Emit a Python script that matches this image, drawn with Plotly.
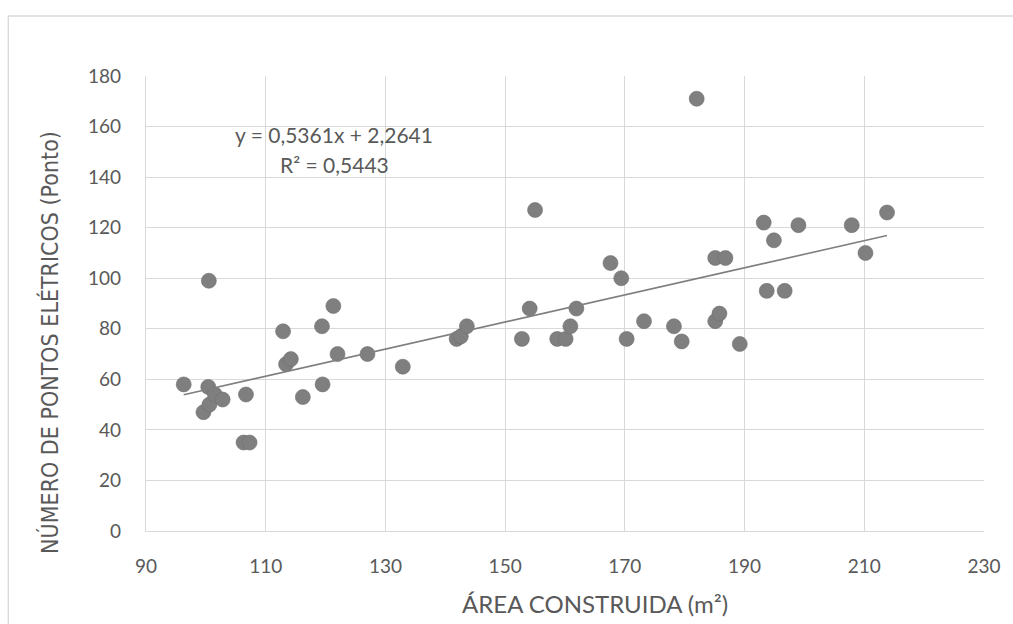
import plotly.graph_objects as go

# Data
area = [96.3, 100.4, 100.5, 99.6, 100.6, 101.5, 102.8, 106.7, 106.3, 107.3,
        112.9, 113.4, 114.2, 116.2, 119.4, 119.5, 121.3, 122.0, 127.0, 132.9,
        141.9, 142.6, 143.6, 152.8, 154.1, 155.0, 158.7, 160.1, 160.9, 161.9,
        167.6, 169.4, 170.3, 173.2, 178.2, 179.5, 182.0, 185.1, 186.8, 185.1,
        185.8, 189.2, 193.2, 193.7, 194.9, 196.7, 199.0, 207.9, 210.2, 213.8]
pontos = [58, 57, 99, 47, 50, 54, 52, 54, 35, 35,
          79, 66, 68, 53, 81, 58, 89, 70, 70, 65,
          76, 77, 81, 76, 88, 127, 76, 76, 81, 88,
          106, 100, 76, 83, 81, 75, 171, 108, 108, 83,
          86, 74, 122, 95, 115, 95, 121, 121, 110, 126]

slope = 0.5361
intercept = 2.2641
eq_text = "y = 0,5361x + 2,2641"
r2_text = "R² = 0,5443"

x_ticks = [90, 110, 130, 150, 170, 190, 210, 230]
y_ticks = [0, 20, 40, 60, 80, 100, 120, 140, 160, 180]

trend_x = [min(area), max(area)]
trend_y = [slope * v + intercept for v in trend_x]

txt = "#595959"
grid = "#d9d9d9"

fig = go.Figure()
fig.add_trace(go.Scatter(x=area, y=pontos, mode="markers",
                         marker=dict(size=15, color="#7f7f7f",
                                     line=dict(width=0.6, color="#6f6f6f")),
                         showlegend=False, hoverinfo="x+y"))
fig.add_trace(go.Scatter(x=trend_x, y=trend_y, mode="lines",
                         line=dict(color="#7f7f7f", width=1.6),
                         showlegend=False, hoverinfo="skip"))

fig.update_layout(
    width=1013, height=624,
    margin=dict(l=146, r=21, t=76, b=93),
    paper_bgcolor="white", plot_bgcolor="white",
    font=dict(family="Lato, Carlito, sans-serif", color=txt, size=19),
    xaxis=dict(range=[90, 230], tickvals=x_ticks, ticktext=[str(v) for v in x_ticks],
               showgrid=True, gridcolor=grid, gridwidth=1.3,
               showline=True, linecolor=grid, linewidth=1.3, mirror=False,
               zeroline=False, ticks="", ticklabelstandoff=18,
               tickfont=dict(size=19, color=txt)),
    yaxis=dict(range=[0, 180], tickvals=y_ticks, ticktext=[str(v) for v in y_ticks],
               showgrid=True, gridcolor=grid, gridwidth=1.3,
               showline=True, linecolor=grid, linewidth=1.3,
               zeroline=False, ticks="", ticklabelstandoff=20,
               tickfont=dict(size=19, color=txt)),
    shapes=[dict(type="rect", xref="paper", yref="paper",
                 x0=-0.1643, x1=1.05, y0=-0.25, y1=1.1319,
                 line=dict(color=grid, width=1.3), layer="below")],
    annotations=[
        dict(text=eq_text, xref="paper", yref="paper", x=0.2246, y=(531 - 134) / 455,
             xanchor="center", yanchor="middle", showarrow=False,
             font=dict(size=21, color=txt)),
        dict(text=r2_text, xref="paper", yref="paper", x=0.2246, y=(531 - 164) / 455,
             xanchor="center", yanchor="middle", showarrow=False,
             font=dict(size=21, color=txt)),
        dict(text="ÁREA CONSTRUIDA (m²)", xref="paper", yref="paper",
             x=(599 - 146) / 846, y=(531 - 603) / 455,
             xanchor="center", yanchor="middle", showarrow=False,
             font=dict(size=24, color=txt)),
        dict(text="NÚMERO DE PONTOS ELÉTRICOS (Ponto)", xref="paper", yref="paper",
             x=(49 - 146) / 846, y=(531 - 342) / 455, textangle=-90,
             xanchor="center", yanchor="middle", showarrow=False,
             font=dict(size=23, color=txt,
                       family="Liberation Sans Narrow, DejaVu Sans Condensed, Lato, sans-serif")),
    ],
)

fig.write_html("out.html")
